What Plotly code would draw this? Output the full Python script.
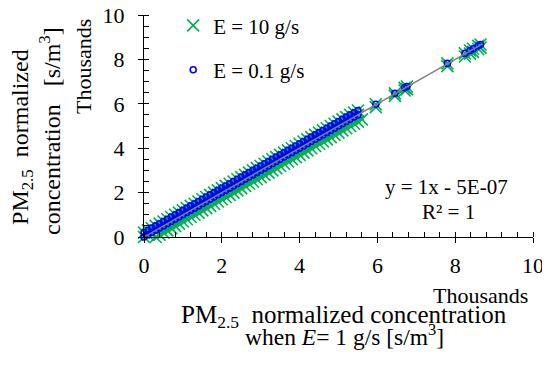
import plotly.graph_objects as go

# ---- data (thousands of s/m^3) ----
band_x = [0.0, 0.1, 0.2, 0.3, 0.4, 0.5, 0.6, 0.7, 0.8, 0.9,
          1.0, 1.1, 1.2, 1.3, 1.4, 1.5, 1.6, 1.7, 1.8, 1.9,
          2.0, 2.1, 2.2, 2.3, 2.4, 2.5, 2.6, 2.7, 2.8, 2.9,
          3.0, 3.1, 3.2, 3.3, 3.4, 3.5, 3.6, 3.7, 3.8, 3.9,
          4.0, 4.1, 4.2, 4.3, 4.4, 4.5, 4.6, 4.7, 4.8, 4.9,
          5.0, 5.1, 5.2, 5.3, 5.4, 5.5]
band_y_hi = [0.2, 0.3, 0.4, 0.5, 0.6, 0.7, 0.8, 0.9, 1.0, 1.1,
             1.2, 1.3, 1.4, 1.5, 1.6, 1.7, 1.8, 1.9, 2.0, 2.1,
             2.2, 2.3, 2.4, 2.5, 2.6, 2.7, 2.8, 2.9, 3.0, 3.1,
             3.2, 3.3, 3.4, 3.5, 3.6, 3.7, 3.8, 3.9, 4.0, 4.1,
             4.2, 4.3, 4.4, 4.5, 4.6, 4.7, 4.8, 4.9, 5.0, 5.1,
             5.2, 5.3, 5.4, 5.5, 5.6, 5.7]
band_lo_x = [0.3, 0.4, 0.5, 0.6, 0.7, 0.8, 0.9, 1.0, 1.1, 1.2,
             1.3, 1.4, 1.5, 1.6, 1.7, 1.8, 1.9, 2.0, 2.1, 2.2,
             2.3, 2.4, 2.5, 2.6, 2.7, 2.8, 2.9, 3.0, 3.1, 3.2,
             3.3, 3.4, 3.5, 3.6, 3.7, 3.8, 3.9, 4.0, 4.1, 4.2,
             4.3, 4.4, 4.5, 4.6, 4.7, 4.8, 4.9, 5.0, 5.1, 5.2,
             5.3, 5.4, 5.5, 5.6]
band_lo_y = [0.0, 0.1, 0.2, 0.3, 0.4, 0.5, 0.6, 0.7, 0.8, 0.9,
             1.0, 1.1, 1.2, 1.3, 1.4, 1.5, 1.6, 1.7, 1.8, 1.9,
             2.0, 2.1, 2.2, 2.3, 2.4, 2.5, 2.6, 2.7, 2.8, 2.9,
             3.0, 3.1, 3.2, 3.3, 3.4, 3.5, 3.6, 3.7, 3.8, 3.9,
             4.0, 4.1, 4.2, 4.3, 4.4, 4.5, 4.6, 4.7, 4.8, 4.9,
             5.0, 5.1, 5.2, 5.3]
tail_x = [5.96, 6.45, 6.70, 6.76, 7.80, 8.25, 8.38, 8.46, 8.59, 8.65]
tail_y = [5.98, 6.47, 6.72, 6.78, 7.82, 8.27, 8.40, 8.48, 8.61, 8.67]
tail_green_y = [5.85, 6.36, 6.60, 6.66, 7.70, 8.13, 8.26, 8.34, 8.47, 8.53]
trend_x = [0.0, 8.7]
trend_y = [0.0, 8.7]

x_ticks = [0, 2, 4, 6, 8, 10]
y_ticks = [0, 2, 4, 6, 8, 10]

GREEN = "#00b050"
BLUE = "#0000ff"
FONT = "Liberation Serif"
NB = "\u00a0"

green_x = band_x + band_x + band_lo_x + tail_x + tail_x
green_y = band_x + band_y_hi + band_lo_y + tail_y + tail_green_y
blue_x = band_x + band_x + tail_x
blue_y = band_x + band_y_hi + tail_y

fig = go.Figure()
fig.add_trace(go.Scatter(
    x=green_x, y=green_y, mode="markers", name="E = 10 g/s",
    legendgroup="g1", cliponaxis=False,
    marker=dict(symbol="x-thin", size=12, color=GREEN,
                line=dict(color=GREEN, width=1.6))))
fig.add_trace(go.Scatter(
    x=blue_x, y=blue_y, mode="markers", name="E = 0.1 g/s",
    legendgroup="g2", cliponaxis=False,
    marker=dict(symbol="circle-open", size=6, color=BLUE,
                line=dict(color=BLUE, width=1.6))))
fig.add_trace(go.Scatter(
    x=trend_x, y=trend_y, mode="lines", showlegend=False,
    xaxis="x2", yaxis="y2", line=dict(color="#808080", width=1.5)))

axis_common = dict(showgrid=False, zeroline=False, showline=True,
                   linecolor="black", linewidth=1.3, mirror=False,
                   tickcolor="black", tickwidth=1.3, ticklen=5,
                   ticks="outside", fixedrange=True, automargin=False,
                   ticklabeloverflow="allow",
                   tickfont=dict(family=FONT, size=22, color="black"))
# the page body has an 8px margin: the figure is shifted by 8px, so it is 8px smaller
fig.update_layout(
    template="none",
    width=542, height=361,
    margin=dict(l=136, r=17, t=7, b=132, autoexpand=False),
    paper_bgcolor="white", plot_bgcolor="white",
    font=dict(family=FONT, color="black"),
    xaxis=dict(range=[0, 10], tickvals=x_ticks, ticktext=[str(v) for v in x_ticks],
               ticklabelstandoff=3,
               minor=dict(dtick=0.4, ticks="inside", ticklen=5,
                          tickcolor="black", tickwidth=1.1, showgrid=False),
               **axis_common),
    yaxis=dict(range=[0, 10], tickvals=y_ticks, ticktext=[str(v) for v in y_ticks],
               ticklabelstandoff=9,
               minor=dict(dtick=0.5, ticks="inside", ticklen=5,
                          tickcolor="black", tickwidth=1.1, showgrid=False),
               **axis_common),
    xaxis2=dict(range=[0, 10], overlaying="x", anchor="y", side="bottom",
                tickvals=x_ticks, ticks="inside", ticklen=5, tickcolor="black",
                tickwidth=1.3, showticklabels=False, showline=False,
                showgrid=False, zeroline=False, fixedrange=True, automargin=False),
    yaxis2=dict(range=[0, 10], overlaying="y", anchor="x", side="left",
                tickvals=y_ticks, ticks="inside", ticklen=5, tickcolor="black",
                tickwidth=1.3, showticklabels=False, showline=False,
                showgrid=False, zeroline=False, fixedrange=True, automargin=False),
    legend=dict(x=0.075, y=1.044, xanchor="left", yanchor="top",
                bgcolor="rgba(0,0,0,0)", traceorder="grouped",
                tracegroupgap=14,
                font=dict(family=FONT, size=21, color="black")),
    showlegend=True,
)

annots = [
    dict(text="Thousands", x=0.992, y=-0.262, xanchor="right", yanchor="middle",
         font=dict(size=22)),
    dict(text="PM<sub>2.5</sub>" + NB + " normalized concentration", x=0.514, y=-0.356,
         xanchor="center", yanchor="middle", font=dict(size=25)),
    dict(text="when <i>E</i>= 1 g/s [s/m<sup>3</sup>]", x=0.515, y=-0.443,
         xanchor="center", yanchor="middle", font=dict(size=23.5)),
    dict(text="PM<sub>2.5</sub>" + NB + " normalized", x=-0.314, y=0.45, textangle=-90,
         xanchor="center", yanchor="middle", font=dict(size=24)),
    dict(text="concentration" + NB + NB + " [s/m<sup>3</sup>]", x=-0.242, y=0.477, textangle=-90,
         xanchor="center", yanchor="middle", font=dict(size=24)),
    dict(text="Thousands", x=-0.154, y=0.766, textangle=-90,
         xanchor="center", yanchor="middle", font=dict(size=22)),
    dict(text="y = 1x - 5E-07", x=0.778, y=0.225,
         xanchor="center", yanchor="middle", font=dict(size=21)),
    dict(text="R² = 1", x=0.783, y=0.113,
         xanchor="center", yanchor="middle", font=dict(size=21)),
]
for a in annots:
    a.update(xref="paper", yref="paper", showarrow=False)
    a["font"].update(family=FONT, color="black")
    fig.add_annotation(**a)

fig.write_html("out.html")
